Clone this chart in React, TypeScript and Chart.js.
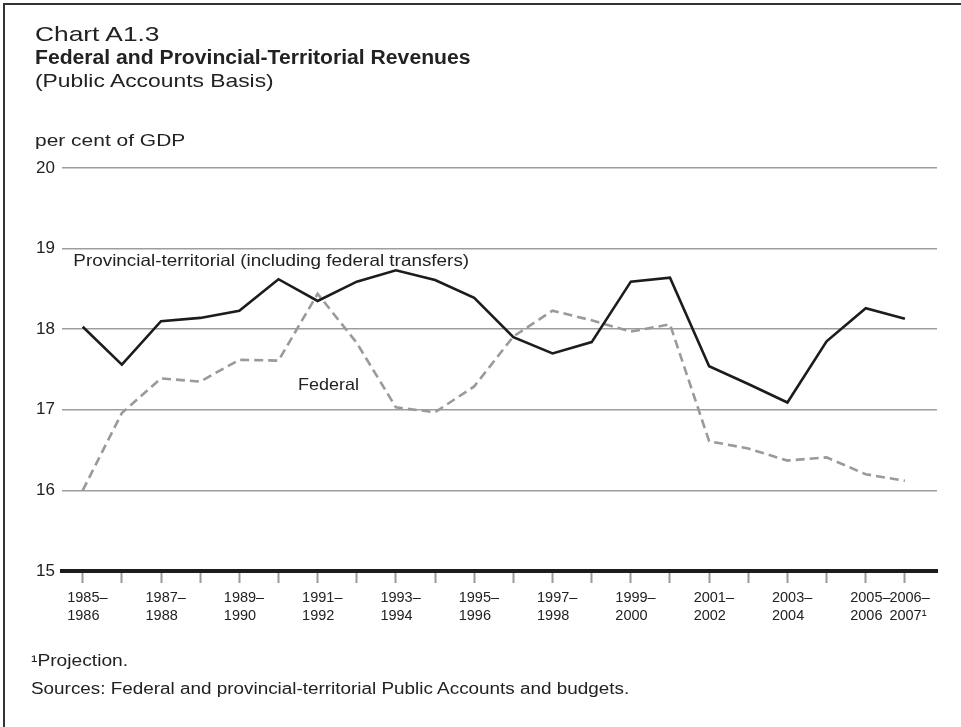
import React, { useEffect, useRef } from 'react';
import { Chart, registerables } from 'chart.js';

Chart.register(...registerables);

// ---- data ----
const years = [
  '1985–1986', '1986–1987', '1987–1988', '1988–1989', '1989–1990', '1990–1991',
  '1991–1992', '1992–1993', '1993–1994', '1994–1995', '1995–1996', '1996–1997',
  '1997–1998', '1998–1999', '1999–2000', '2000–2001', '2001–2002', '2002–2003',
  '2003–2004', '2004–2005', '2005–2006', '2006–2007',
];
const provincial = [
  18.03, 17.56, 18.10, 18.14, 18.23, 18.62, 18.35, 18.59, 18.73, 18.61, 18.39,
  17.90, 17.70, 17.84, 18.59, 18.64, 17.54, 17.32, 17.09, 17.85, 18.26, 18.13,
];
const federal = [
  16.00, 16.96, 17.39, 17.35, 17.62, 17.61, 18.44, 17.83, 17.03, 16.97, 17.29,
  17.91, 18.23, 18.11, 17.97, 18.06, 16.61, 16.52, 16.37, 16.41, 16.20, 16.12,
];
const tickLabels: (string | string[])[] = [
  ['1985–', '1986'], '', ['1987–', '1988'], '', ['1989–', '1990'], '',
  ['1991–', '1992'], '', ['1993–', '1994'], '', ['1995–', '1996'], '',
  ['1997–', '1998'], '', ['1999–', '2000'], '', ['2001–', '2002'], '',
  ['2003–', '2004'], '', ['2005–', '2006'], ['2006–', '2007¹'],
];
const yMin = 15;
const yMax = 20;

const FONT = '"Liberation Sans", Arial, Helvetica, sans-serif';
const TEXT = '#222';

const seriesLabels = [
  { text: 'Provincial-territorial (including federal transfers)', x: -0.24, y: 18.79, size: 16.5, sx: 1.145 },
  { text: 'Federal', x: 5.5, y: 17.25, size: 16.5, sx: 1.09 },
];

const labelPlugin = {
  id: 'seriesLabels',
  afterDatasetsDraw(chart: any) {
    const { ctx, scales } = chart;
    const xs = scales.x;
    const ys = scales.y;
    seriesLabels.forEach((l) => {
      ctx.save();
      ctx.font = `${l.size}px ${FONT}`;
      ctx.fillStyle = TEXT;
      ctx.textBaseline = 'alphabetic';
      ctx.textAlign = 'left';
      ctx.translate(xs.getPixelForValue(l.x), ys.getPixelForValue(l.y));
      ctx.scale(l.sx, 1);
      ctx.fillText(l.text, 0, 0);
      ctx.restore();
    });
  },
};

function T(props: { text: string; left: number; baseline: number; size: number; bold?: boolean; sx?: number }) {
  const { text, left, baseline, size, bold, sx = 1 } = props;
  return (
    <div
      style={{
        position: 'absolute',
        left,
        top: baseline - 0.8465 * size,
        fontSize: size,
        lineHeight: `${size}px`,
        fontWeight: bold ? 'bold' : 'normal',
        fontFamily: FONT,
        color: TEXT,
        whiteSpace: 'nowrap',
        transform: `scaleX(${sx})`,
        transformOrigin: 'left top',
      }}
    >
      {text}
    </div>
  );
}

export default function App() {
  const ref = useRef<HTMLCanvasElement | null>(null);

  useEffect(() => {
    if (!ref.current) return;
    const chart = new Chart(ref.current, {
      type: 'line',
      data: {
        datasets: [
          {
            label: 'Provincial-territorial (including federal transfers)',
            data: provincial.map((v, i) => ({ x: i, y: v })),
            borderColor: '#1c1c1c',
            borderWidth: 2.6,
            pointRadius: 0,
            tension: 0,
            order: 1,
          },
          {
            label: 'Federal',
            data: federal.map((v, i) => ({ x: i, y: v })),
            borderColor: '#9a9a9a',
            borderWidth: 2.6,
            borderDash: [9, 5],
            pointRadius: 0,
            tension: 0,
            order: 2,
          },
        ],
      },
      options: {
        animation: false,
        responsive: false,
        devicePixelRatio: 1,
        layout: { padding: { top: 168, right: 24, left: 0, bottom: 0 } },
        plugins: {
          legend: { display: false },
          title: { display: false },
          tooltip: { enabled: false },
        },
        scales: {
          x: {
            type: 'linear',
            min: -0.529,
            max: 21.82,
            afterBuildTicks: (scale: any) => {
              scale.ticks = years.map((_, i) => ({ value: i }));
            },
            afterFit: (scale: any) => {
              scale.height = 156;
            },
            ticks: {
              autoSkip: false,
              maxRotation: 0,
              minRotation: 0,
              align: 'start',
              labelOffset: -15.5,
              padding: 6,
              color: TEXT,
              font: { family: FONT, size: 14.5, lineHeight: '18px' },
              callback: (value: any) => tickLabels[Math.round(Number(value))] ?? '',
            },
            grid: {
              drawOnChartArea: false,
              drawTicks: true,
              tickLength: 12,
              tickColor: '#9a9a9a',
              tickWidth: 2,
              color: '#9a9a9a',
            },
            border: { display: true, color: '#1c1c1c', width: 4 },
          },
          y: {
            type: 'linear',
            min: yMin,
            max: yMax,
            afterFit: (scale: any) => {
              scale.width = 62;
            },
            ticks: {
              stepSize: 1,
              padding: 7,
              color: TEXT,
              font: { family: FONT, size: 17 },
            },
            grid: {
              drawTicks: false,
              color: '#9d9d9d',
              lineWidth: 1.5,
            },
            border: { display: false },
          },
        },
      },
      plugins: [labelPlugin],
    } as any);
    return () => chart.destroy();
  }, []);

  return (
    <div
      style={{
        position: 'fixed',
        left: 0,
        top: 0,
        width: 961,
        height: 727,
        overflow: 'hidden',
        background: '#fff',
      }}
    >
      <div
        style={{
          position: 'absolute',
          left: 3,
          top: 3,
          width: 2000,
          height: 2000,
          borderLeft: '2px solid #333',
          borderTop: '2px solid #333',
        }}
      />
      <canvas ref={ref} width={961} height={727} style={{ position: 'absolute', left: 0, top: 0 }} />
      <T text="Chart A1.3" left={35} baseline={41} size={21} sx={1.255} />
      <T text="Federal and Provincial-Territorial Revenues" left={35} baseline={63.5} size={20} bold sx={1.057} />
      <T text="(Public Accounts Basis)" left={35} baseline={88} size={18.5} sx={1.235} />
      <T text="per cent of GDP" left={35} baseline={146} size={16.5} sx={1.27} />
      <T text="¹Projection." left={31} baseline={667} size={16} sx={1.2} />
      <T text="Sources: Federal and provincial-territorial Public Accounts and budgets." left={31} baseline={695} size={16} sx={1.18} />
    </div>
  );
}
